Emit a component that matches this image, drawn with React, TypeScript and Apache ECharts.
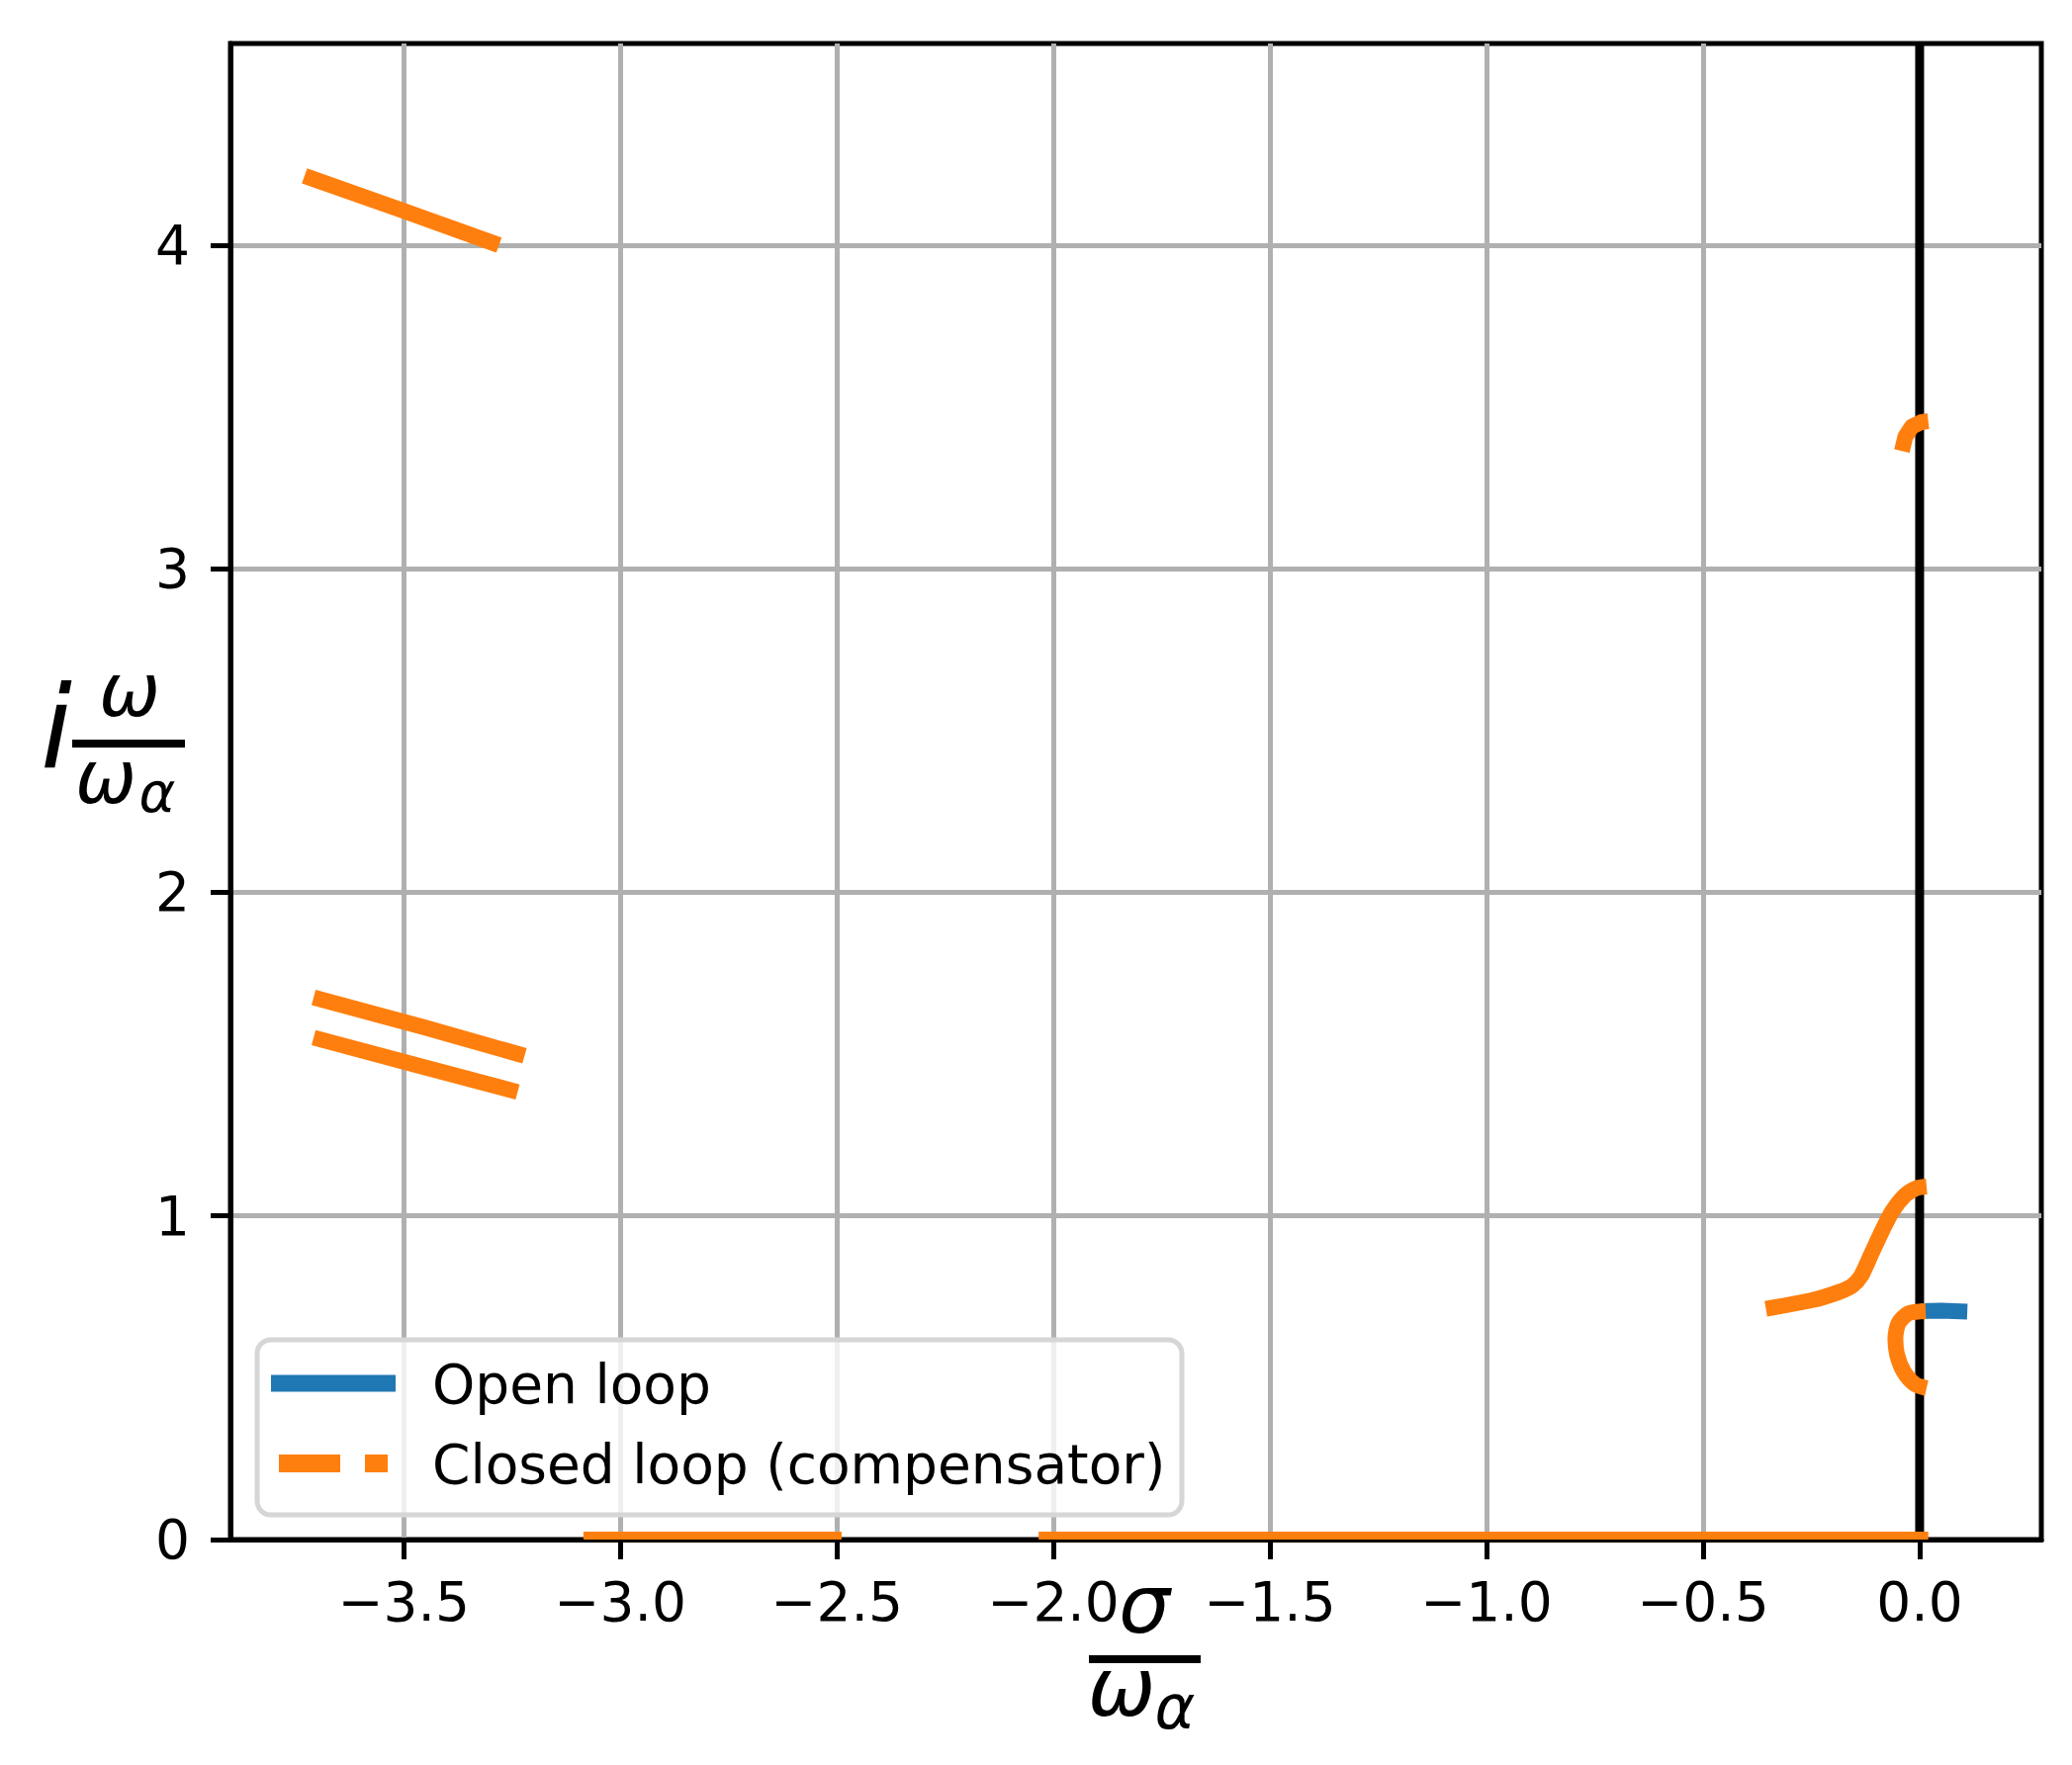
import React, { useEffect, useRef } from "react";
import * as echarts from "echarts";

// Axis ticks and limits
const xTicks = [-3.5, -3.0, -2.5, -2.0, -1.5, -1.0, -0.5, 0.0];
const yTicks = [0, 1, 2, 3, 4];
const xMin = -3.9;
const xMax = 0.281;
const yMin = 0;
const yMax = 4.623;

// Legend labels
const legendLabels = ["Open loop", "Closed loop (compensator)"];

// Open loop (visible part)
const openLoop: number[][] = [
  [0.0, 0.706],
  [0.05, 0.707],
  [0.11, 0.704],
];

// Closed loop (compensator) branches
const clTop: number[][] = [
  [-3.729, 4.214],
  [-3.5, 4.106],
  [-3.28, 4.0],
];
const clMidUpper: number[][] = [
  [-3.708, 1.675],
  [-3.45, 1.582],
  [-3.221, 1.495],
];
const clMidLower: number[][] = [
  [-3.708, 1.551],
  [-3.47, 1.466],
  [-3.237, 1.383],
];
const clNearTop: number[][] = [
  [-0.041, 3.364],
  [-0.033, 3.408],
  [-0.018, 3.439],
  [0.006, 3.454],
  [0.02, 3.456],
];
const clSCurve: number[][] = [
  [-0.355, 0.713],
  [-0.247, 0.74],
  [-0.186, 0.765],
  [-0.155, 0.785],
  [-0.135, 0.815],
  [-0.11, 0.887],
  [-0.087, 0.953],
  [-0.063, 1.015],
  [-0.033, 1.065],
  [-0.007, 1.086],
  [0.016, 1.091],
];
const clCCurve: number[][] = [
  [0.014, 0.706],
  [-0.026, 0.699],
  [-0.049, 0.668],
  [-0.056, 0.622],
  [-0.052, 0.571],
  [-0.037, 0.52],
  [-0.011, 0.48],
  [0.016, 0.468],
];
// Real-axis segments of the closed loop: [start sigma, end sigma] at imaginary part 0
const clRealAxis: number[][] = [
  [-3.085, -2.489],
  [-2.034, 0.02],
];
const zeroLine: number[][] = [
  [0, yMin],
  [0, yMax],
];

const BLUE = "#1f77b4";
const ORANGE = "#ff7f0e";
const FONT = "DejaVu Sans";

function fmtX(v: number) {
  return v.toFixed(1).replace("-", "\u2212");
}

export default function App() {
  const ref = useRef<HTMLDivElement>(null);
  useEffect(() => {
    if (!ref.current) return;
    const chart = echarts.init(ref.current, undefined, { renderer: "svg" });
    const lw = 16;
    const orangeSeries = [clTop, clMidUpper, clMidLower, clNearTop, clSCurve, clCCurve].map((d, i) => ({
      type: "line" as const,
      data: d,
      showSymbol: false,
      symbol: "none",
      smooth: i >= 4 ? 0.25 : false,
      lineStyle: { color: ORANGE, width: lw, cap: "butt", join: "round" },
      z: 4,
    }));
    const option: any = {
      animation: false,
      backgroundColor: "#fff",
      grid: {
        left: 233,
        right: 31,
        top: 44,
        bottom: 228,
        show: true,
        borderColor: "#000",
        borderWidth: 5,
        backgroundColor: "transparent",
      },
      xAxis: {
        type: "value",
        min: xMin,
        max: xMax,
        axisLine: { show: true, onZero: false, lineStyle: { color: "#000", width: 5 } },
        axisTick: { show: true, length: 20, lineStyle: { color: "#000", width: 5 }, customValues: xTicks },
        axisLabel: {
          customValues: xTicks,
          formatter: (v: number) => fmtX(v),
          fontSize: 55,
          fontFamily: FONT,
          color: "#000",
          margin: 35,
        },
        splitLine: { show: true, lineStyle: { color: "#b0b0b0", width: 5 } },
      },
      yAxis: {
        type: "value",
        min: yMin,
        max: yMax,
        axisLine: { show: true, onZero: false, lineStyle: { color: "#000", width: 5 } },
        axisTick: { show: true, length: 20, lineStyle: { color: "#000", width: 5 }, customValues: yTicks },
        axisLabel: {
          customValues: yTicks,
          formatter: (v: number) => String(Math.round(v)),
          fontSize: 55,
          fontFamily: FONT,
          color: "#000",
          margin: 41,
        },
        splitLine: { show: true, lineStyle: { color: "#b0b0b0", width: 5 } },
      },
      series: [
        {
          type: "line",
          data: zeroLine,
          showSymbol: false,
          symbol: "none",
          lineStyle: { color: "#000", width: 9 },
          z: 2,
        },
        {
          type: "line",
          data: openLoop,
          showSymbol: false,
          symbol: "none",
          lineStyle: { color: BLUE, width: lw, cap: "butt" },
          z: 3,
        },
        ...orangeSeries,
        {
          // real-axis branches: stroke centred on Im = 0, lower half clipped by the axes
          type: "custom",
          data: clRealAxis,
          encode: { x: [0, 1] },
          z: 4,
          renderItem: (params: any, api: any) => {
            const p0 = api.coord([api.value(0), 0]);
            const p1 = api.coord([api.value(1), 0]);
            return {
              type: "rect",
              shape: { x: p0[0], y: p0[1] - lw / 2, width: p1[0] - p0[0], height: lw / 2 },
              style: { fill: ORANGE },
            };
          },
        },
      ],
      graphic: [
        // legend frame
        {
          type: "rect",
          shape: { x: 260, y: 1355, width: 935, height: 177, r: 14 },
          style: { fill: "rgba(255,255,255,0.8)", stroke: "#d6d6d6", lineWidth: 5 },
          z: 100,
        },
        {
          type: "line",
          shape: { x1: 274, y1: 1399, x2: 400, y2: 1399 },
          style: { stroke: BLUE, lineWidth: 17 },
          z: 101,
        },
        {
          type: "line",
          shape: { x1: 282, y1: 1480, x2: 344, y2: 1480 },
          style: { stroke: ORANGE, lineWidth: 18 },
          z: 101,
        },
        {
          type: "line",
          shape: { x1: 369, y1: 1480, x2: 392, y2: 1480 },
          style: { stroke: ORANGE, lineWidth: 18 },
          z: 101,
        },
        {
          type: "text",
          x: 437,
          y: 1400,
          style: { text: legendLabels[0], fontSize: 55, fontFamily: FONT, fill: "#000", verticalAlign: "middle", align: "left" },
          z: 101,
        },
        {
          type: "text",
          x: 437,
          y: 1481,
          style: { text: legendLabels[1], fontSize: 55, fontFamily: FONT, fill: "#000", verticalAlign: "middle", align: "left" },
          z: 101,
        },
        // y-axis label: i ω / ω_α
        {
          type: "text",
          x: 57,
          y: 736,
          style: { text: "i", fontSize: 115, fontFamily: FONT, fontStyle: "italic", fill: "#000", align: "center", verticalAlign: "middle" },
        },
        {
          type: "text",
          x: 131,
          y: 698,
          style: { text: "\u03c9", fontSize: 74, fontFamily: FONT, fontStyle: "italic", fill: "#000", align: "center", verticalAlign: "middle" },
        },
        {
          type: "line",
          shape: { x1: 73, y1: 752, x2: 187, y2: 752 },
          style: { stroke: "#000", lineWidth: 8 },
        },
        {
          type: "text",
          x: 107,
          y: 786,
          style: { text: "\u03c9", fontSize: 74, fontFamily: FONT, fontStyle: "italic", fill: "#000", align: "center", verticalAlign: "middle" },
        },
        {
          type: "text",
          x: 159,
          y: 801,
          style: { text: "\u03b1", fontSize: 56, fontFamily: FONT, fontStyle: "italic", fill: "#000", align: "center", verticalAlign: "middle" },
        },
        // x-axis label: σ / ω_α
        {
          type: "text",
          x: 1157,
          y: 1622,
          style: { text: "\u03c3", fontSize: 82, fontFamily: FONT, fontStyle: "italic", fill: "#000", align: "center", verticalAlign: "middle" },
        },
        {
          type: "line",
          shape: { x1: 1101, y1: 1678, x2: 1214, y2: 1678 },
          style: { stroke: "#000", lineWidth: 8 },
        },
        {
          type: "text",
          x: 1134,
          y: 1706,
          style: { text: "\u03c9", fontSize: 82, fontFamily: FONT, fontStyle: "italic", fill: "#000", align: "center", verticalAlign: "middle" },
        },
        {
          type: "text",
          x: 1188,
          y: 1726,
          style: { text: "\u03b1", fontSize: 62, fontFamily: FONT, fontStyle: "italic", fill: "#000", align: "center", verticalAlign: "middle" },
        },
      ],
    };
    chart.setOption(option);
    return () => chart.dispose();
  }, []);
  return (
    <div
      ref={ref}
      style={{ position: "fixed", left: 0, top: 0, width: 2095, height: 1785, background: "#fff" }}
    />
  );
}
